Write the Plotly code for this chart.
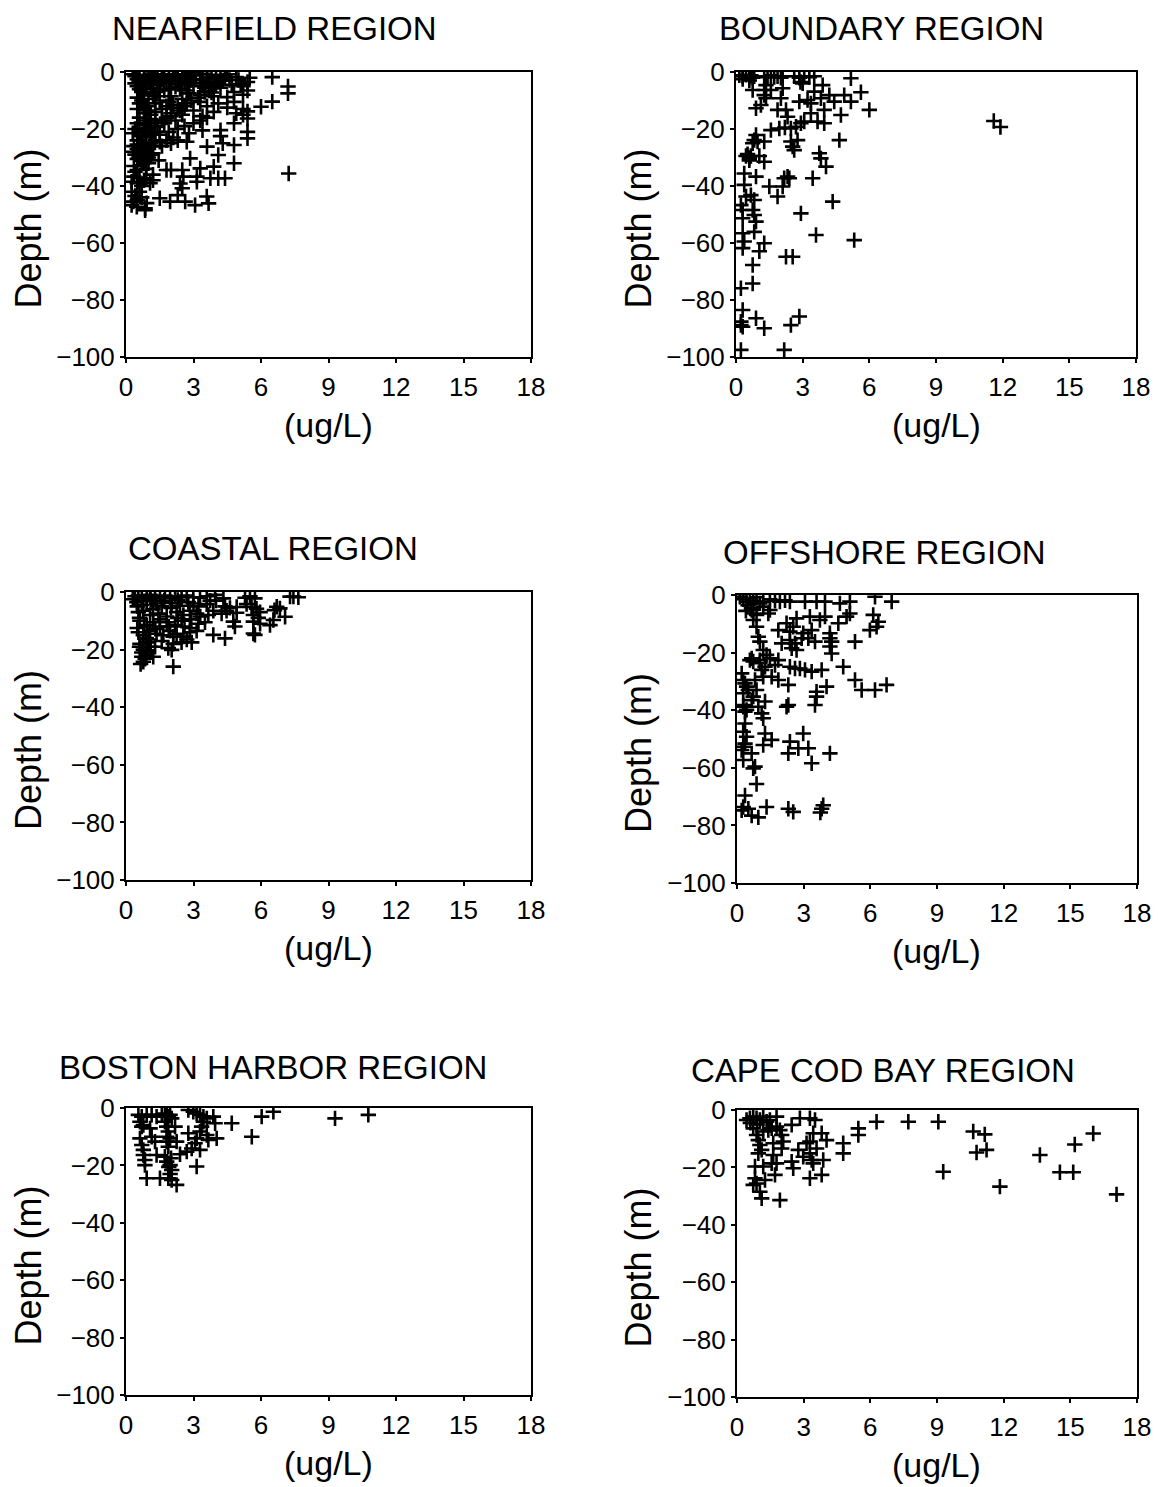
import plotly.graph_objects as go

W, H = 1159, 1487

region_titles = ["NEARFIELD REGION", "BOUNDARY REGION", "COASTAL REGION",
                 "OFFSHORE REGION", "BOSTON HARBOR REGION", "CAPE COD BAY REGION"]
x_ticks = [0, 3, 6, 9, 12, 15, 18]
y_ticks = [0, -20, -40, -60, -80, -100]
x_label = "(ug/L)"
y_label = "Depth (m)"

# (concentration ug/L, depth m)
nearfield_points = [
    (0.4,-1.5),(0.6,-1.0),(0.8,-2.0),(1.0,-1.5),(1.2,-1.2),(1.4,-2.2),(1.6,-1.5),(1.9,-1.0),(2.1,-2.0),(2.3,-1.5),
    (2.5,-2.4),(2.8,-1.8),(3.1,-1.2),(3.3,-2.5),(3.6,-2.2),(4.0,-1.0),(4.2,-2.0),(4.4,-1.5),(4.6,-2.8),(4.9,-1.8),
    (5.5,-2.0),(6.5,-1.8),(0.3,-0.8),(0.5,-2.5),(0.9,-2.8),(1.7,-0.8),(2.6,-1.0),(3.8,-1.6),
    (0.6,-3.5),(0.9,-4.0),(1.1,-3.2),(1.5,-3.8),(1.8,-3.5),(2.3,-4.2),(2.6,-3.3),(2.8,-4.0),(3.7,-3.6),(4.0,-4.5),
    (4.3,-3.0),(5.1,-4.2),(5.2,-5.0),(0.4,-4.0),(3.3,-3.8),
    (0.6,-6),(0.8,-8),(1.1,-5.5),(1.4,-7),(1.7,-6.5),(2.0,-8.5),(2.4,-6),(2.8,-7.5),(3.3,-8),(3.7,-6.5),(3.9,-8.5),
    (4.2,-5.5),(4.8,-7),(5.2,-8),(5.4,-6.5),(7.2,-5.1),(7.2,-7.5),(0.5,-9),(1.0,-9.5),(3.5,-5.5),(3.8,-7.2),(4.5,-8.8),(2.2,-5.2),
    (0.7,-10),(0.9,-12),(1.3,-11),(1.6,-13),(1.9,-10.5),(2.3,-12.5),(2.7,-11),(3.0,-13.5),(3.3,-10.5),(3.6,-12),
    (3.9,-14),(4.1,-11),(4.5,-12.5),(4.8,-10.5),(5.2,-13),(6.5,-10.4),(6.0,-12.2),(5.4,-13.8),(5.2,-15),(5.4,-16.3),
    (0.5,-13),(0.8,-14.5),(1.1,-15),(2.0,-14.5),(2.5,-15),(3.4,-15.5),(4.9,-14.5),
    (0.4,-20),(0.6,-21),(0.8,-20),(1.0,-19.5),(1.2,-21),(0.5,-18),(0.9,-17),(0.7,-22.5),(1.4,-19),(1.7,-18),
    (1.9,-21),(2.3,-20),(2.6,-19),(3.0,-18),(3.3,-17),(3.6,-16),(4.2,-20.4),(4.2,-22.5),(4.8,-18),(5.4,-21),
    (5.4,-23.3),(1.5,-22),(2.1,-23),(2.8,-21.5),(3.4,-20.5),(1.1,-16.5),(0.3,-21.5),
    (0.3,-28),(0.4,-29),(0.5,-27),(0.6,-30),(0.7,-28),(0.8,-26),(0.9,-29),(1.0,-27),(1.1,-25),(0.5,-24),(1.3,-24),
    (1.5,-24.5),(1.8,-24),(2.3,-24),(2.7,-24.5),(3.6,-26.2),(4.3,-25),(4.8,-25.6),(4.1,-29.1),(2.0,-25),(1.6,-26),
    (1.2,-28.5),(0.7,-25.5),(0.35,-26),(1.0,-30),
    (2.85,-30.3),(1.45,-31),(1.8,-34.4),(2.0,-34.4),(2.5,-34.4),(3.3,-33.8),(3.9,-33.2),(4.8,-32),(0.35,-33),
    (0.5,-34.4),(0.8,-32),(0.9,-34),
    (2.55,-36.7),(3.15,-36.7),(3.15,-38.5),(3.75,-37.3),(4.1,-37.3),(4.4,-37.3),(2.4,-39.1),(0.35,-36.7),(0.5,-39),
    (0.9,-37.3),(1.07,-39),(7.23,-35.6),(1.2,-36),(0.25,-38.5),(0.7,-40),
    (2.5,-40.8),(0.25,-42),(0.4,-43.5),(0.33,-45.5),(0.25,-46.7),(0.48,-47.3),(0.85,-47.8),(0.92,-46),(1.5,-44.3),
    (1.96,-45.5),(2.3,-43.2),(2.63,-45.5),(3.07,-46.7),(3.59,-43.7),(3.67,-46.1),(0.7,-44),(0.85,-48.5),
    (0.5,-5),(0.7,-7),(0.9,-6),(1.2,-8),(0.6,-11),(0.8,-12.5),(1.0,-13.5),(1.3,-14),(0.6,-16),(0.8,-18.5),
    (1.1,-18),(1.3,-17),(0.9,-23),(1.1,-22),(1.3,-21),(0.5,-25.5),(0.6,-27),(0.8,-28.5),(0.9,-27.5),(1.1,-29),
    (1.2,-26),(0.5,-30.5),(0.7,-31),(1.0,-32),(0.4,-35),(0.6,-37),(0.8,-38),(1.2,-38),(0.6,-42),(0.5,-45),
    (1.6,-17),(1.8,-16),(2.0,-15.5),(2.2,-17),(2.4,-13.5),(2.6,-12),(2.9,-10),(3.2,-9),(3.5,-7),(3.9,-5),
    (4.1,-3.5),(2.1,-11.5),(2.5,-9.5),(1.8,-12),(1.5,-10),(1.3,-8.5),(2.7,-6.5),(3.0,-5),(3.4,-4),(1.9,-6),
    (1.2,-4.5),(0.8,-5.5),(1.6,-2.8),(2.0,-3),(2.9,-2.8),(4.7,-4.5),(5.4,-3.5),(1.1,-2.0),(1.3,-0.8),(2.2,-0.8),
    (2.9,-0.5),(4.5,-0.8),(3.4,-0.6),(5.0,-2.8),
]

boundary_points = [
    (0.15,-1.2),(0.3,-1.5),(0.45,-1.0),(0.6,-1.8),(0.67,-1.2),(0.75,-2.0),(0.82,-1.5),(1.27,-1.5),(1.42,-1.8),
    (1.57,-1.2),(1.72,-1.8),(1.87,-1.5),(2.02,-2.0),(2.1,-1.5),(2.62,-1.5),(2.85,-2.0),(3.07,-1.5),(3.3,-1.8),
    (3.52,-1.5),(5.17,-2.2),(2.9,-3.5),(3.0,-4.0),(0.3,-2.5),(0.6,-3.0),
    (0.75,-6.3),(1.27,-6.3),(1.35,-4.6),(1.57,-6.3),(2.1,-5.7),(3.9,-4.6),(5.62,-7.1),
    (1.27,-8.1),(1.35,-9.2),(2.02,-9.2),(3.52,-6.9),(3.82,-9.2),(4.2,-8.1),(4.42,-10.4),(4.87,-8.1),(5.17,-10.4),
    (2.85,-10.4),(3.22,-9.8),(3.37,-11),
    (0.9,-12.7),(1.12,-11.6),(1.87,-13.3),(2.25,-13.3),(2.32,-15.7),(3.97,-13.3),(3.37,-14.5),(4.72,-15.1),(6.0,-13.3),
    (1.57,-20.4),(1.95,-19.8),(2.47,-19.8),(2.7,-19.2),(2.92,-18),(3.07,-17.4),(3.67,-17.4),(3.97,-18),(4.65,-23.9),(2.2,-19.5),
    (0.9,-22.1),(0.82,-23.9),(0.75,-25),(0.97,-24.4),(1.27,-24.4),(2.47,-24.4),(2.55,-26.2),(2.62,-27.4),(2.77,-23.9),
    (3.75,-28.5),(3.82,-30.3),(4.05,-33.2),
    (0.45,-29.5),(0.52,-28.8),(0.6,-30.2),(0.67,-29.5),(1.05,-29.5),(1.27,-31.5),(0.6,-31),
    (0.37,-35.6),(0.9,-36.7),(0.37,-39.6),(0.45,-43.7),(0.67,-43.2),(0.82,-44.9),(0.22,-46.7),(0.3,-48.4),(0.75,-48.4),(0.82,-50.2),
    (2.32,-36.7),(2.4,-37.3),(2.17,-37.3),(2.1,-40.2),(1.5,-40.2),(1.87,-43.7),(3.45,-37.3),(4.35,-45.5),(2.92,-49.6),
    (0.3,-51.3),(0.9,-52.5),
    (0.3,-56.6),(0.37,-59.5),(0.3,-61.8),(0.82,-56.1),(1.27,-60.1),(1.05,-62.9),(3.6,-57.2),(5.32,-59),(2.25,-64.8),
    (2.55,-64.8),(0.75,-67.7),(0.75,-74.2),(0.22,-75.9),
    (0.3,-83.5),(0.22,-87.6),(0.22,-88.8),(0.3,-89.4),(0.9,-86.4),(1.27,-89.9),(2.47,-88.8),(2.85,-85.8),(0.22,-97.5),(2.17,-97.5),
    (11.6,-17.2),(11.9,-19.3),
]

coastal_points = [
    (0.4,-1.5),(0.55,-1.2),(0.7,-2.0),(0.92,-1.5),(1.07,-1.0),(1.29,-2.0),(1.51,-1.5),(1.73,-1.2),(1.96,-2.0),
    (2.18,-1.5),(2.47,-1.8),(2.7,-1.2),(2.99,-1.8),(3.29,-2.0),(3.59,-1.5),(3.96,-1.0),(4.33,-2.2),(5.29,-2.0),
    (5.51,-1.5),(5.73,-2.2),(7.29,-1.6),(7.44,-1.6),(7.66,-1.8),(0.3,-2.5),(1.1,-2.8),(2.3,-2.8),(4.0,-3.0),
    (0.48,-3.5),(0.7,-4.5),(0.92,-3.2),(1.36,-4.0),(1.59,-5.0),(2.03,-3.8),(2.4,-4.8),(2.77,-3.5),(3.22,-5.0),
    (3.59,-4.2),(3.74,-3.0),(4.4,-5.0),(4.62,-5.5),(4.92,-5.2),(5.36,-4.2),(5.58,-5.2),(5.8,-5.8),(6.7,-5.1),
    (6.84,-5.7),(6.6,-6.3),
    (0.55,-7),(0.77,-6.5),(1.07,-8),(1.44,-7.5),(1.81,-8.5),(2.25,-7),(2.55,-8),(2.84,-6.5),(3.14,-7.5),(3.66,-8),
    (3.88,-6.5),(4.25,-7.5),(4.47,-6.5),(4.92,-7.2),(5.66,-8),(5.88,-9),(5.96,-7),(7.07,-8.6),(6.55,-9.7),
    (0.62,-10),(0.92,-11.5),(1.21,-10.5),(1.51,-12),(1.81,-10.5),(2.18,-11.5),(2.47,-10),(2.84,-12.5),(3.22,-11),
    (3.51,-10.5),(4.77,-10.3),(4.84,-12.0),(5.66,-10.3),(5.96,-11),(6.4,-11.5),
    (0.55,-14),(0.77,-15),(1.07,-13.5),(1.36,-14.5),(1.66,-15),(1.96,-13.5),(2.25,-14.5),(2.55,-15.5),(2.84,-14),
    (3.14,-13.5),(3.88,-14.9),(4.4,-16.1),(5.66,-14.4),(5.73,-14.9),(0.9,-16),
    (0.62,-18),(0.77,-20),(0.99,-17.5),(1.29,-19),(1.59,-17),(1.88,-19.5),(2.1,-18),(2.47,-17.5),(2.7,-16.5),
    (2.92,-17.5),(0.7,-21),(1.0,-20.5),
    (0.7,-22.5),(0.77,-24.2),(0.85,-23.2),(1.21,-22.5),(2.03,-20.1),(2.1,-25.9),(0.65,-25),
    (0.5,-5),(0.6,-9),(0.8,-12),(1.0,-16.5),(1.2,-6),(1.3,-12.8),(1.5,-9.5),(1.7,-3),(1.9,-12),(2.1,-15.5),
    (2.3,-9),(2.6,-12),(2.9,-9.5),(3.0,-4),(3.3,-8.5),(0.6,-19),(0.9,-22),(1.1,-19),(0.5,-12.5),(2.0,-5.5),
]

offshore_points = [
    (0.13,-0.6),(0.28,-1.5),(0.43,-2.3),(0.58,-1.2),(0.73,-2.0),(0.88,-0.8),(1.18,-2.3),(1.48,-1.5),(1.71,-2.0),
    (1.93,-2.3),(2.16,-1.8),(2.38,-2.3),(3.06,-2.3),(3.58,-2.3),(3.96,-2.3),(4.63,-2.9),(5.08,-2.3),(6.21,-0.6),
    (6.96,-2.3),(0.5,-3.5),(0.65,-4.5),(0.4,-5.5),
    (5.08,-6.4),(4.93,-7.5),(6.13,-6.9),(6.36,-9.3),(5.98,-12.2),(6.28,-11),
    (2.68,-8.1),(3.28,-7.5),(3.73,-8.7),(3.96,-7.5),(4.56,-9.8),(2.23,-9.8),(2.53,-11),(2.38,-12.7),(1.86,-12.2),
    (2.98,-13.3),(3.36,-12.2),(4.18,-13.3),(4.18,-15.0),(4.26,-16.2),(4.18,-17.9),(4.26,-20.3),(5.31,-16.2),
    (2.38,-15.6),(2.61,-16.8),(2.46,-18.5),(2.68,-19.1),(2.01,-16.8),(2.91,-15.0),(3.21,-15.0),(3.51,-16.2),
    (4.78,-24.9),(5.31,-29.5),(5.61,-33.0),(6.21,-33.0),(6.73,-31.2),(4.03,-31.8),(3.58,-33.6),(3.58,-35.3),
    (2.31,-31.2),(2.31,-38.2),(2.38,-24.9),(2.61,-25.5),(2.83,-25.5),(3.06,-26.0),(3.36,-26.6),(3.81,-26.0),
    (1.71,-24.3),(1.86,-22.6),(1.18,-19.1),(1.33,-20.8),(1.48,-22.0),(1.03,-22.6),(1.26,-24.9),(1.56,-28.4),
    (1.86,-29.5),(1.03,-16.2),(0.96,-14.5),(0.88,-11.0),(0.73,-8.7),(0.88,-6.9),(1.41,-6.4),(1.48,-5.2),
    (1.18,-4.05),(1.03,-2.9),(0.66,-5.2),(0.73,-6.4),
    (0.21,-27.2),(0.28,-29.5),(0.36,-30.7),(0.43,-31.8),(0.51,-33.0),(0.28,-34.1),(0.66,-22.0),(0.73,-23.1),
    (0.58,-22.6),(1.03,-23.7),(1.11,-26.0),(1.18,-28.4),(0.81,-29.5),(0.88,-33.0),(0.73,-35.3),(0.66,-36.5),(0.28,-38.2),
    (0.28,-38.8),(0.36,-40.5),(0.43,-39.9),(0.96,-38.8),(1.11,-41.1),(1.18,-42.8),(1.26,-37.0),(2.23,-38.8),
    (3.51,-38.2),(0.36,-44.6),(0.28,-47.5),(0.43,-49.2),(0.36,-51.6),(0.28,-52.7),(0.21,-53.8),(0.66,-55.0),
    (0.28,-57.3),(0.81,-59.6),(0.73,-60.2),(0.88,-65.6),(0.36,-69.6),(0.28,-73.6),(0.21,-74.8),(0.51,-74.2),
    (0.66,-76.6),(0.96,-77.2),(1.26,-48.1),(1.56,-50.3),(1.18,-52.1),(2.38,-50.9),(2.31,-55.0),(2.76,-53.2),
    (2.98,-48.1),(3.21,-53.2),(3.36,-58.4),(4.18,-55.0),(1.33,-73.6),(2.31,-74.2),(2.53,-75.3),(3.81,-74.2),
    (3.88,-73.0),(3.75,-75.5),
]

boston_harbor_points = [
    (0.55,-2.4),(0.7,-3.0),(0.92,-2.4),(1.14,-2.4),(1.36,-3.0),(1.59,-2.4),(1.73,-1.9),(1.81,-2.4),(1.88,-3.0),
    (1.96,-2.4),(2.03,-3.6),(2.77,-0.7),(2.99,-1.3),(3.14,-1.9),(3.29,-2.4),(3.44,-3.0),(3.59,-3.6),(3.88,-3.0),
    (3.96,-5.3),(4.7,-5.3),(6.03,-3.0),(6.55,-1.3),(9.29,-3.6),(10.77,-2.4),
    (0.62,-4.8),(0.77,-5.9),(1.07,-7.1),(0.7,-6.5),
    (1.73,-4.8),(1.81,-6.5),(1.88,-8.2),(1.81,-10),(1.81,-11.7),(1.88,-13.5),(1.96,-10.6),(2.18,-6.5),(2.25,-11.7),
    (2.77,-8.8),(3.14,-10.6),(3.29,-8.2),(3.36,-6.5),(3.44,-4.8),(3.59,-9.4),(3.66,-11.1),(4.03,-10.6),(5.59,-10.0),
    (3.29,-14.6),(2.92,-14.1),(2.7,-15.2),(2.4,-16.1),(3.07,-12.3),(3.14,-20.4),
    (0.62,-10.6),(0.7,-12.9),(0.77,-14.6),(0.77,-16.4),(0.84,-18.1),(0.84,-19.9),(0.92,-24.5),(1.29,-11.7),
    (1.14,-10),(1.36,-16.4),(1.51,-24.5),(1.73,-17),(1.81,-18.7),(1.96,-19.9),(2.03,-21.6),(1.96,-23),(2.03,-25.1),
    (2.25,-26.8),(1.88,-24.5),(1.9,-20.5),(2.0,-17.5),
]

cape_cod_bay_points = [
    (0.43,-3.5),(0.58,-2.9),(0.73,-2.3),(0.88,-2.9),(1.03,-3.5),(1.18,-2.3),(1.33,-4.1),(1.48,-3.5),(1.78,-2.3),
    (2.46,-5.2),(2.83,-2.9),(3.28,-2.9),(3.51,-3.5),(6.28,-4.1),(7.71,-4.1),(9.06,-4.1),
    (0.73,-6.4),(0.88,-8.7),(0.96,-10.5),(1.03,-12.2),(1.11,-13.9),(0.96,-15.1),(1.18,-7.5),(1.41,-7),(1.56,-6.4),
    (1.78,-5.8),(1.93,-7),(2.01,-8.7),(2.08,-11),(2.01,-13.4),(1.63,-11.6),(1.63,-15.7),(1.56,-18.6),(1.78,-18.6),
    (2.46,-18),(2.53,-20.3),(2.76,-13.9),(2.98,-16.3),(3.13,-11.6),(3.28,-11),(3.43,-8.1),(3.28,-15.1),(3.36,-17.4),
    (3.43,-18.6),(3.58,-13.4),(3.81,-8.1),(4.03,-10.5),(3.88,-17.4),(3.81,-22.6),(3.28,-23.8),(4.78,-11.6),
    (4.78,-15.1),(5.46,-6.4),(5.46,-8.7),(0.81,-19.7),(1.18,-19.7),(0.81,-23.8),(0.88,-25.6),(1.03,-28.5),
    (1.11,-30.8),(1.26,-24.4),(1.71,-22.6),(1.93,-31.4),(0.73,-26.1),(0.6,-4.5),(0.9,-5.0),
    (9.28,-21.5),(10.63,-7.5),(11.15,-8.5),(10.78,-14.8),(11.23,-13.9),(11.83,-26.7),(13.63,-15.7),(14.53,-21.7),
    (15.13,-21.7),(15.2,-12),(16.03,-8.2),(17.08,-29.4),
]

panels_data = [nearfield_points, boundary_points, coastal_points,
               offshore_points, boston_harbor_points, cape_cod_bay_points]

# plot-area boxes in pixels: (left, top, right, bottom)
boxes = [(126, 72, 531, 357), (736, 72, 1136, 357),
         (126, 592, 531, 880), (737, 595, 1137, 883),
         (126, 1108, 531, 1395), (737, 1110, 1137, 1397)]
title_pos = [(274, 29), (882, 29), (273, 549), (884, 552), (273, 1067), (883, 1070)]

FONT = "Liberation Sans, Arial, sans-serif"

fig = go.Figure()
layout = dict(width=W, height=H,
              margin=dict(l=0, r=0, t=0, b=0, pad=0, autoexpand=False),
              autosize=False,
              paper_bgcolor="white", plot_bgcolor="white", showlegend=False,
              font=dict(family=FONT, color="black"))
annotations = []

for i, pts in enumerate(panels_data):
    n = i + 1
    xs = [p[0] for p in pts]
    ys = [p[1] for p in pts]
    fig.add_trace(go.Scatter(
        x=xs, y=ys, mode="markers", xaxis=f"x{n}", yaxis=f"y{n}",
        marker=dict(symbol="cross-thin", size=11, color="black",
                    line=dict(width=2.6, color="black")),
        hoverinfo="x+y"))
    l, t, r, b = boxes[i]
    xd = [l / W, r / W]
    yd = [1 - b / H, 1 - t / H]
    layout[f"xaxis{n}"] = dict(
        domain=xd, anchor=f"y{n}", range=[0, 18], tickvals=x_ticks,
        showgrid=False, zeroline=False, showline=True, linecolor="black",
        linewidth=2, mirror=True, ticks="outside", ticklen=4, tickwidth=1.5,
        tickcolor="black", ticklabelstandoff=2, automargin=False,
        tickfont=dict(family=FONT, size=26, color="black"))
    layout[f"yaxis{n}"] = dict(
        domain=yd, anchor=f"x{n}", range=[-100, 0], tickvals=y_ticks,
        showgrid=False, zeroline=False, showline=True, linecolor="black",
        linewidth=2, mirror=True, ticks="outside", ticklen=4, tickwidth=1.5,
        tickcolor="black", ticklabelstandoff=0, automargin=False,
        tickfont=dict(family=FONT, size=26, color="black"))
    tx, ty = title_pos[i]
    annotations.append(dict(text=region_titles[i], x=tx / W, y=1 - ty / H,
                            xref="paper", yref="paper", showarrow=False,
                            xanchor="center", yanchor="middle",
                            font=dict(family=FONT, size=33, color="black")))
    annotations.append(dict(text=x_label, x=(l + r) / 2 / W, y=1 - (b + 68) / H,
                            xref="paper", yref="paper", showarrow=False,
                            xanchor="center", yanchor="middle",
                            font=dict(family=FONT, size=34, color="black")))
    ylx = 28 if l < 500 else 638
    annotations.append(dict(text=y_label, x=ylx / W, y=1 - ((t + b) / 2 + 14) / H,
                            xref="paper", yref="paper", showarrow=False,
                            textangle=-90, xanchor="center", yanchor="middle",
                            font=dict(family=FONT, size=36, color="black")))

layout["annotations"] = annotations
fig.update_layout(**layout)
fig.write_html("out.html")
